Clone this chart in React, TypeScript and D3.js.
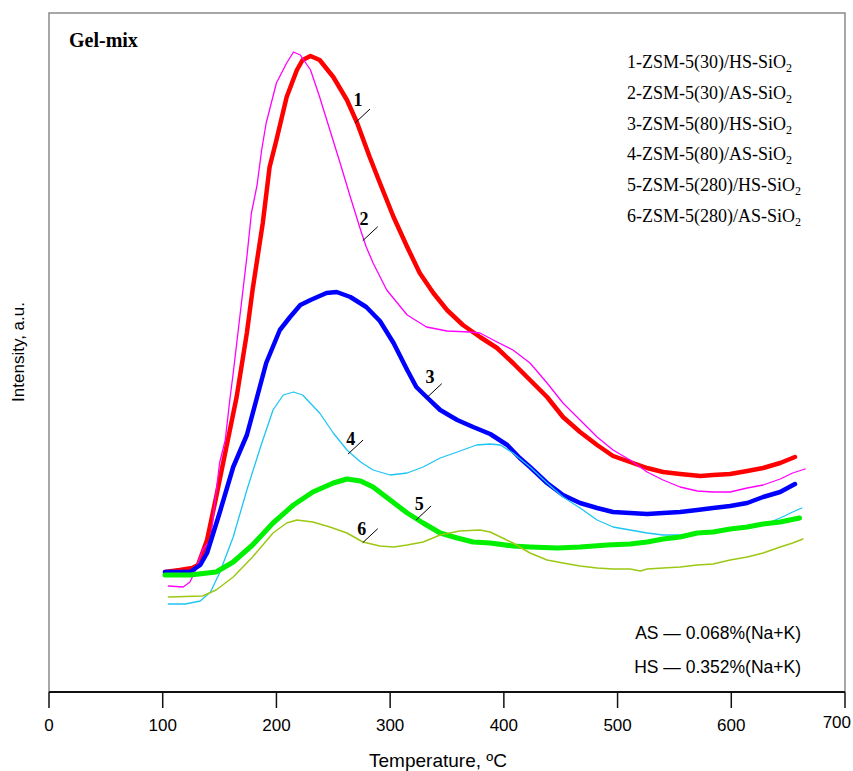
import React from "react";
import * as d3 from "d3";

// TPD profiles: temperature (°C) and intensity (a.u.)
const series1T = [102,115,126,131,139,147,156,165,174,179,188,194,200,209,218,223,230,238,250,262,271,282,291,303,315,326,338,350,364,379,394,408,423,438,452,467,482,496,511,526,540,555,573,584,599,614,628,643,656];
const series1I = [120,122,124,127,152,195,245,295,359,402,469,525,552,595,622,632,636,632,615,592,569,535,509,475,445,419,399,382,367,355,344,329,312,295,275,260,247,236,230,224,220,218,216,217,218,221,224,229,235];

const series2T = [105,118,124,129,135,142,150,155,159,162,168,174,178,183,187,191,200,209,215,221,230,238,247,256,265,274,279,285,297,315,332,350,370,379,394,408,423,438,452,467,482,496,511,526,540,555,570,584,599,614,628,643,654,665];
const series2I = [106,105,110,122,142,152,229,252,292,319,377,435,479,507,542,569,609,629,640,637,622,595,562,529,495,462,445,429,402,377,365,361,360,359,350,342,329,309,289,272,255,242,232,220,212,205,201,200,200,204,207,213,219,223];

const series3T = [102,115,124,133,139,150,162,174,183,191,203,212,221,230,244,253,265,279,291,303,315,323,332,344,359,373,388,403,414,423,438,452,467,482,496,511,526,540,555,570,584,599,614,628,643,656];
const series3I = [120,120,120,127,139,179,225,257,295,329,362,375,387,392,399,400,395,385,371,349,322,305,295,282,272,265,258,247,234,225,209,197,189,184,180,179,178,179,180,182,184,186,189,195,200,208];

const series4T = [105,120,133,142,150,162,174,186,197,206,215,223,238,250,262,274,285,300,315,329,344,359,376,388,397,408,423,438,452,467,482,496,511,526,540,555,570,584,599,614,628,643,654,662];
const series4I = [88,88,91,100,119,155,202,245,282,297,300,297,279,259,242,230,222,217,219,225,234,240,247,248,247,239,225,209,195,184,172,165,162,159,157,157,159,160,162,164,167,174,180,184];

const series5T = [102,124,147,162,179,197,215,232,250,262,274,285,300,315,329,344,359,373,388,408,423,447,467,491,511,526,540,555,570,584,599,614,628,643,660];
const series5I = [117,117,120,130,147,169,187,200,209,213,211,205,192,179,169,159,154,150,149,146,145,144,145,147,148,150,153,155,159,160,163,165,168,170,174];

const series6T = [105,135,147,162,179,197,209,218,232,247,262,276,291,303,315,329,344,361,379,388,397,408,423,438,452,467,482,496,511,520,526,540,555,570,584,599,614,628,643,654,663];
const series6I = [95,96,102,115,135,159,169,172,170,165,159,150,146,145,147,150,157,161,162,160,155,149,139,132,129,126,124,123,123,121,123,124,125,127,128,132,135,139,145,149,153];

const legendLabels = [
  "1-ZSM-5(30)/HS-SiO",
  "2-ZSM-5(30)/AS-SiO",
  "3-ZSM-5(80)/HS-SiO",
  "4-ZSM-5(80)/AS-SiO",
  "5-ZSM-5(280)/HS-SiO",
  "6-ZSM-5(280)/AS-SiO",
];

const xTicks = [0, 100, 200, 300, 400, 500, 600, 700];

// curve number callouts: point on the curve and label centre (data units)
const calloutNames = ["1", "2", "3", "4", "5", "6"];
const calloutAnchorT = [269.1, 275.9, 332.2, 263.0, 322.8, 275.9];
const calloutAnchorI = [569, 451.3, 294.3, 238, 172, 149.3];
const calloutTextT = [271.8, 277.0, 335.1, 265.3, 325.7, 275.0];
const calloutTextI = [592.5, 473.5, 315.3, 253, 188, 163];

const seriesStyles = [
  { color: "#ff0000", width: 4.5 },
  { color: "#ff00ff", width: 1.3 },
  { color: "#0000ff", width: 4.5 },
  { color: "#1ec4f4", width: 1.3 },
  { color: "#00f000", width: 5 },
  { color: "#9cc814", width: 1.5 },
];

const W = 853;
const H = 771;
const left = 49;
const right = 845;
const top = 13;
const bottom = 692;

export default function App() {
  const x = d3.scaleLinear().domain([0, 700]).range([left, right]);
  const y = d3.scaleLinear().domain([0, 679]).range([bottom, top]);

  const allT = [series1T, series2T, series3T, series4T, series5T, series6T];
  const allI = [series1I, series2I, series3I, series4I, series5I, series6I];

  const line = d3
    .line<[number, number]>()
    .x((d) => x(d[0]))
    .y((d) => y(d[1]))
    .curve(d3.curveLinear);

  const serif = "'Liberation Serif', 'Times New Roman', serif";
  const sans = "'Liberation Sans', Arial, sans-serif";

  return (
    <svg
      width={W}
      height={H}
      viewBox={`0 0 ${W} ${H}`}
      style={{ position: "absolute", left: 0, top: 0, background: "#fff" }}
    >
      {/* frame */}
      <path
        d={`M${left},${bottom} V${top} H${right} V${bottom}`}
        fill="none"
        stroke="#8a8a8a"
        strokeWidth={1.5}
      />
      <line x1={left} x2={right} y1={bottom} y2={bottom} stroke="#111" strokeWidth={2} />
      {xTicks.map((t, i) => {
        const last = i === xTicks.length - 1;
        return (
          <g key={t}>
            <line x1={x(t)} x2={x(t)} y1={bottom} y2={bottom + 16} stroke="#111" strokeWidth={1.5} />
            <text
              x={last ? W - 2 : x(t)}
              y={last ? 728 : 731}
              textAnchor={last ? "end" : "middle"}
              fontFamily={sans}
              fontSize={17}
              fill="#000"
            >
              {t}
            </text>
          </g>
        );
      })}
      <text x={438} y={767} textAnchor="middle" fontFamily={sans} fontSize={19} fill="#000">
        Temperature, ºC
      </text>
      <text
        transform="translate(24,352) rotate(-90)"
        textAnchor="middle"
        fontFamily={sans}
        fontSize={17}
        fill="#000"
      >
        Intensity, a.u.
      </text>

      {/* curves */}
      {allT.map((ts, k) => {
        const pts = ts.map((t, j) => [t, allI[k][j]] as [number, number]);
        return (
          <path
            key={k}
            d={line(pts) || ""}
            fill="none"
            stroke={seriesStyles[k].color}
            strokeWidth={seriesStyles[k].width}
            strokeLinejoin="round"
            strokeLinecap="round"
          />
        );
      })}

      {/* curve callouts */}
      {calloutNames.map((n, k) => {
        const ax = x(calloutAnchorT[k]);
        const ay = y(calloutAnchorI[k]);
        return (
          <g key={n}>
            <line x1={ax} y1={ay} x2={ax + 15} y2={ay - 14} stroke="#000" strokeWidth={1} />
            <text
              x={x(calloutTextT[k])}
              y={y(calloutTextI[k])}
              dy="0.36em"
              textAnchor="middle"
              fontFamily={serif}
              fontWeight="bold"
              fontSize={18}
              fill="#000"
            >
              {n}
            </text>
          </g>
        );
      })}

      <text x={69} y={47} fontFamily={serif} fontWeight="bold" fontSize={20} fill="#000">
        Gel-mix
      </text>

      {/* legend */}
      {legendLabels.map((lab, k) => (
        <text key={lab} x={627} y={68 + k * 30.8} fontFamily={serif} fontSize={18} fill="#000">
          {lab}
          <tspan fontSize={12} dy={4}>2</tspan>
        </text>
      ))}

      <text x={801} y={639} textAnchor="end" fontFamily={sans} fontSize={17.5} fill="#000">
        AS — 0.068%(Na+K)
      </text>
      <text x={801} y={673} textAnchor="end" fontFamily={sans} fontSize={17.5} fill="#000">
        HS — 0.352%(Na+K)
      </text>
    </svg>
  );
}
